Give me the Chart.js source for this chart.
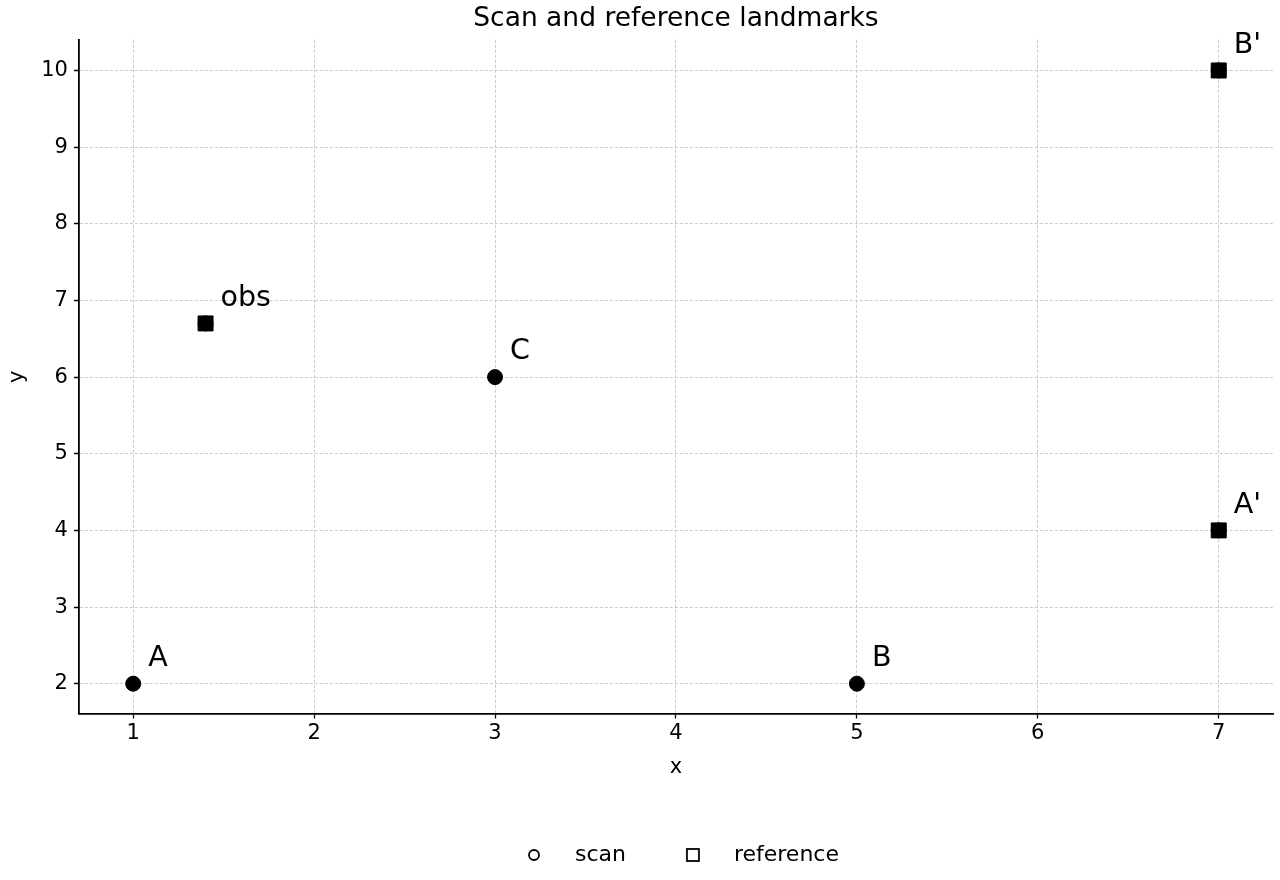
<!DOCTYPE html>
<html><head><meta charset="utf-8">
<script src="https://cdn.jsdelivr.net/npm/chart.js@4/dist/chart.umd.min.js"></script>
<style>html,body{margin:0;padding:0;background:#fff}#wrap{width:1280px;height:880px}</style>
</head><body><div id="wrap"><canvas id="c" width="1280" height="880"></canvas></div>
<script>
const scanX = [1, 5, 3, 1.4, 7, 7];
const scanY = [2, 2, 6, 6.7, 4, 10];
const refX = [1.4, 7, 7];
const refY = [6.7, 4, 10];
const labelNames = ["A", "B", "C", "obs", "A'", "B'"];
const labelX = [1, 5, 3, 1.4, 7, 7];
const labelY = [2, 2, 6, 6.7, 4, 10];
const xTicks = [1, 2, 3, 4, 5, 6, 7];
const yTicks = [2, 3, 4, 5, 6, 7, 8, 9, 10];

const FONT = "'DejaVu Sans', sans-serif";

function legendMarker(kind) {
  const cv = document.createElement('canvas');
  cv.width = 16; cv.height = 16;
  const g = cv.getContext('2d');
  g.strokeStyle = '#000'; g.lineWidth = 1.8;
  if (kind === 'circle') { g.beginPath(); g.arc(8, 8, 5, 0, Math.PI * 2); g.stroke(); }
  else { g.strokeRect(2, 2, 12, 12); }
  return cv;
}
const markCircle = legendMarker('circle');
const markSquare = legendMarker('square');

const labelPlugin = {
  id: 'pointLabels',
  afterLayout(chart) {
    if (chart.legend) { chart.legend.right -= 9; }
  },
  afterDatasetsDraw(chart) {
    const ctx = chart.ctx, xs = chart.scales.x, ys = chart.scales.y;
    ctx.save();
    ctx.font = "28.5px " + FONT;
    ctx.fillStyle = '#000';
    ctx.textBaseline = 'middle';
    ctx.textAlign = 'left';
    labelNames.forEach((n, i) => {
      ctx.fillText(n, xs.getPixelForValue(labelX[i]) + 15, ys.getPixelForValue(labelY[i]) - 25);
    });
    ctx.restore();
  }
};

const gridOpts = { color: '#c4c4c4', lineWidth: 0.9, tickColor: '#000', tickLength: 5, tickBorderDash: [1, 0], tickWidth: 1.3 };
const borderOpts = { display: true, color: '#000', width: 1.8, dash: [3, 2] };

new Chart(document.getElementById('c'), {
  type: 'scatter',
  data: {
    datasets: [
      { label: 'scan', data: scanX.map((x, i) => ({x, y: scanY[i]})), pointStyle: 'circle', pointRadius: 7.5, pointHoverRadius: 7.5, backgroundColor: '#000', borderColor: '#000', borderWidth: 1 },
      { label: 'reference', data: refX.map((x, i) => ({x, y: refY[i]})), pointStyle: 'rect', pointRadius: 10.6, pointHoverRadius: 10.6, backgroundColor: '#000', borderColor: '#000', borderWidth: 1 }
    ]
  },
  options: {
    responsive: false,
    animation: false,
    layout: { autoPadding: false, padding: { left: 3, right: 7, top: 0, bottom: 4 } },
    plugins: {
      title: { display: true, fullSize: false, text: 'Scan and reference landmarks', color: '#000', font: { family: FONT, size: 26.5, weight: 'normal' }, padding: { top: 3, bottom: 5 } },
      legend: {
        position: 'bottom',
        fullSize: false,
        labels: {
          color: '#000', font: { family: FONT, size: 22 }, usePointStyle: true, pointStyleWidth: 60, boxHeight: 16, padding: 37,
          generateLabels(chart) {
            return chart.data.datasets.map((d, i) => ({ text: d.label, fillStyle: '#fff', strokeStyle: '#000', lineWidth: 0, pointStyle: i === 0 ? markCircle : markSquare, datasetIndex: i, hidden: false, fontColor: '#000' }));
          }
        }
      },
      tooltip: { enabled: false }
    },
    scales: {
      x: {
        type: 'linear', min: 0.7, max: 7.3,
        afterBuildTicks(s) { s.ticks = xTicks.map(v => ({ value: v })); },
        ticks: { color: '#000', font: { family: FONT, size: 21 }, padding: 2, includeBounds: false },
        grid: gridOpts,
        border: borderOpts,
        title: { display: true, text: 'x', color: '#000', font: { family: FONT, size: 21 }, padding: { top: 7, bottom: 27 } }
      },
      y: {
        type: 'linear', min: 1.61, max: 10.4,
        afterBuildTicks(s) { s.ticks = yTicks.map(v => ({ value: v })); },
        ticks: { color: '#000', font: { family: FONT, size: 21 }, padding: 6, includeBounds: false },
        grid: gridOpts,
        border: borderOpts,
        title: { display: true, text: 'y', color: '#000', font: { family: FONT, size: 21 }, padding: { top: 2, bottom: 5 } }
      }
    }
  },
  plugins: [labelPlugin]
});
</script></body></html>
